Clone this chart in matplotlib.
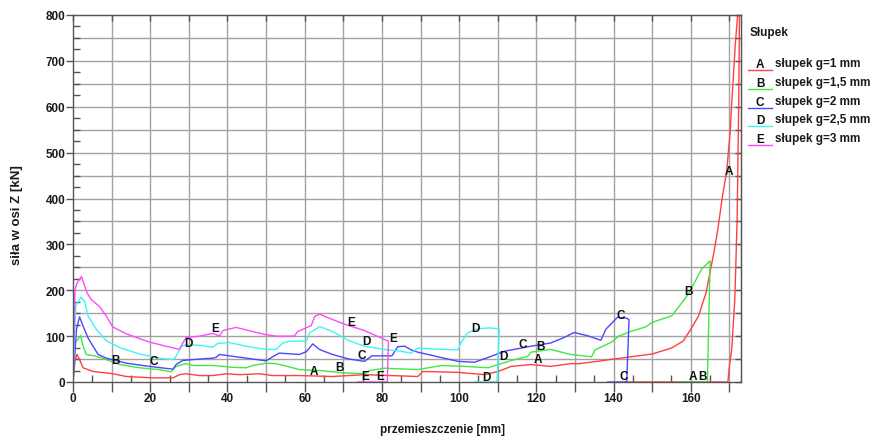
import numpy as np
import matplotlib
matplotlib.use("Agg")
import matplotlib.pyplot as plt
from matplotlib.ticker import MultipleLocator, FuncFormatter, NullFormatter
from matplotlib.lines import Line2D

plt.rcParams['font.family'] = ['Liberation Sans', 'DejaVu Sans']
plt.rcParams['font.weight'] = 'bold'

# przemieszczenie [mm] / siła [kN] for each column wall thickness
xa = [0, 0.5, 1.0, 1.7, 2.6, 5.2, 10.3, 13.8, 20.7, 25.9, 27.6, 29.3, 32.8, 36.2, 39.7,
      43.1, 48.3, 51.7, 58.6, 67.2, 75.5, 89.3, 90.6, 99.7, 106.6, 110.1, 113.5, 118.6,
      123.7, 128.9, 131, 135.8, 140, 150, 155, 158, 160, 162, 164, 165, 166, 167, 168.2,
      169.3, 170.2, 170.5, 171.2, 171.5, 172.1, 172.4, 172.6, 172.4, 172.0, 171.4, 170.6,
      170.0, 169.6, 143]
ya = [0, 45, 60, 49, 31, 23, 18, 12, 9, 9, 16, 18, 14, 14, 18,
      16, 18, 14, 14, 12, 16, 12, 23, 21, 16, 23, 34, 38,
      34, 40, 40, 45, 50, 61, 74, 89, 115, 144, 196, 240, 283, 333, 405,
      460, 545, 595, 690, 733, 797, 840, 800, 600, 355, 181, 72,
      35, 0, 0]

xb = [0, 0.4, 1.3, 2.0, 2.6, 3.4, 6.0, 8.6, 12.1, 17.2, 22.4, 25.4, 26.7, 29.3, 31,
      36.2, 41.4, 44.8, 46.6, 50, 52.6, 56, 58.6, 63.9, 69.8, 75.5, 76.8, 80.7, 89.3,
      95.4, 101.4, 107.5, 110.1, 114.4, 117.8, 118.6, 123.7, 128.9, 134.3, 135.2, 139.5,
      141.3, 144.7, 148.3, 150, 155, 156.8, 159.4, 162.8, 165, 164.3, 157.4]
yb = [0, 85, 93, 101, 78, 60, 56, 49, 38, 31, 27, 22, 34, 40, 36,
      36, 32, 31, 36, 41, 40, 33, 27, 25, 20, 18, 25, 30, 27,
      36, 34, 31, 38, 49, 56, 65, 71, 60, 55, 70, 87,
      100, 111, 120, 130, 144, 163, 192, 246, 264, 0, 0]

xc = [0, 0.9, 1.7, 2.6, 3.9, 6.5, 8.6, 13.8, 19.8, 25.9, 26.7, 28.4, 32.8, 36.2, 37.1,
      37.9, 41.4, 46.6, 50, 51.7, 53.4, 58.6, 60.4, 62.1, 63.8, 67.2, 71.5, 75.5, 77.4,
      82.6, 84.1, 85.9, 87.6, 89.3, 94.5, 99.7, 104, 108.3, 111.7, 118.6, 123.7, 127.2,
      129.8, 133.2, 136.7, 138, 141, 143.4, 144, 143.4, 138.5]
yc = [0, 115, 142, 122, 96, 60, 52, 41, 34, 28, 38, 47, 50, 52, 54,
      60, 56, 50, 46, 55, 63, 60, 66, 83, 71, 60, 50, 45, 57,
      57, 77, 78, 70, 65, 55, 45, 43, 56, 67, 78, 85, 97,
      108, 101, 91, 115, 141, 139, 136, 0, 0]

xd = [0, 0.7, 2.0, 3.0, 3.9, 6.0, 8.6, 12.1, 17.2, 22.4, 25.9, 26.7, 28.0, 29.3, 32.8,
      36.2, 37.5, 40.5, 44.8, 50, 52.6, 54.3, 56, 60.4, 61.3, 63.9, 66.9, 71.2, 75.5,
      80.7, 84.1, 87.6, 89.3, 92.8, 99.7, 100.5, 102.2, 104.8, 107.8, 110.4, 109.8, 104.1]
yd = [0, 165, 185, 176, 144, 115, 90, 75, 61, 52, 49, 56, 78, 81, 80,
      76, 84, 86, 78, 71, 71, 85, 89, 89, 107, 121, 111, 91, 78,
      71, 68, 63, 74, 72, 70, 86, 107, 116, 118, 116, 0, 0]

xe = [0, 0.5, 1.0, 2.2, 3.6, 4.7, 6.9, 8.6, 10.3, 13.8, 19.8, 24.1, 27.6, 28.3, 29.3,
      32.8, 36.2, 37.9, 38.8, 42.2, 46.6, 50, 52.6, 57.3, 58.2, 61.7, 62.6, 63.9, 65.2,
      70.3, 75.5, 81.7, 81.4, 73.7]
ye = [0, 200, 215, 230, 195, 180, 164, 144, 120, 105, 87, 78, 71, 83, 97,
      100, 106, 100, 112, 119, 110, 103, 100, 100, 110, 123, 143, 148, 143,
      126, 112, 89, 0, 0]

# letter tags along each curve
tags_a = [(62.5, 25), (120.5, 50), (160.5, 14), (169.8, 460)]
tags_b = [(10.9, 48), (69, 33), (121.1, 79), (159.4, 199), (163, 14)]
tags_c = [(20.8, 46), (74.8, 59), (116.4, 83), (141.8, 147), (142.6, 14)]
tags_d = [(29.8, 84), (75.9, 90), (104.1, 118), (111.5, 57), (107.2, 10)]
tags_e = [(36.7, 117), (72, 130), (75.7, 12), (79.5, 12), (83, 97)]

letters = ['A', 'B', 'C', 'D', 'E']
names = ['słupek g=1 mm', 'słupek g=1,5 mm', 'słupek g=2 mm',
         'słupek g=2,5 mm', 'słupek g=3 mm']
colors = ['#ff4040', '#40e840', '#4848ff', '#40f4f4', '#ff48ff']

series = [(xa, ya, tags_a), (xb, yb, tags_b), (xc, yc, tags_c),
          (xd, yd, tags_d), (xe, ye, tags_e)]

fig = plt.figure(figsize=(8.72, 4.39), dpi=100)
ax = fig.add_axes([73 / 872, 56 / 439, 668 / 872, 367 / 439])
ax.set_xlim(0, 173)
ax.set_ylim(0, 800)

for v in np.arange(10, 173, 10):
    ax.axvline(v, color='#a2a2a2', lw=1.0, zorder=0)
for h in np.arange(50, 800, 50):
    ax.axhline(h, color='#a2a2a2', lw=1.0, zorder=0)

for (x, y, tags), let, col in zip(series, letters, colors):
    ax.plot(x, y, color=col, lw=1.0, zorder=2)
    for tx, ty in tags:
        ax.text(tx, ty, let, ha='center', va='center', fontsize=8.5,
                fontweight='bold', color='#111111', zorder=3)

ax.xaxis.set_major_locator(MultipleLocator(10))
ax.xaxis.set_minor_locator(MultipleLocator(5))
ax.xaxis.set_major_formatter(FuncFormatter(lambda v, p: '%d' % v if int(round(v)) % 20 == 0 else ''))
ax.yaxis.set_major_locator(MultipleLocator(100))
ax.yaxis.set_minor_locator(MultipleLocator(25))
ax.tick_params(axis='x', which='major', direction='out', length=7, width=1,
               pad=0.5, labelsize=8.5, colors='#555555', labelcolor='#1a1a1a')
ax.tick_params(axis='x', which='minor', direction='in', length=5, width=1, colors='#555555')
ax.tick_params(axis='y', which='major', direction='out', length=5, width=1,
               pad=0.5, labelsize=8.5, colors='#555555', labelcolor='#1a1a1a')
ax.tick_params(axis='y', which='minor', direction='in', length=5, width=1, colors='#555555')
for lab in ax.get_xticklabels() + ax.get_yticklabels():
    lab.set_fontweight('bold')

for s in ax.spines.values():
    s.set_color('#555555')
    s.set_linewidth(1.0)

right = ax.secondary_yaxis('right')
right.yaxis.set_major_locator(MultipleLocator(50))
right.yaxis.set_major_formatter(NullFormatter())
right.tick_params(direction='in', length=4, width=1, colors='#555555')
right.spines['right'].set_color('#555555')

top = ax.secondary_xaxis('top')
top.xaxis.set_major_locator(MultipleLocator(10))
top.xaxis.set_major_formatter(NullFormatter())
top.tick_params(direction='in', length=4, width=1, colors='#555555')
top.spines['top'].set_color('#555555')

fig.text(442 / 872, 1 - 430 / 439, 'przemieszczenie [mm]', ha='center', va='center',
         fontsize=8.5, fontweight='bold', color='#1a1a1a')
fig.text(17 / 872, 1 - 215 / 439, 'siła w osi Z [kN]', ha='center', va='center',
         rotation=90, fontsize=9.5, fontweight='bold', color='#1a1a1a')

# legend block on the right
W, H = 872, 439
fig.text(750 / W, 1 - 33 / H, 'Słupek', ha='left', va='center',
         fontsize=8.5, fontweight='bold', color='#1a1a1a')
for i, (let, name, col) in enumerate(zip(letters, names, colors)):
    yy = 64 + 18.8 * i
    fig.text(760 / W, 1 - (yy + 1) / H, let, ha='center', va='center',
             fontsize=8.5, fontweight='bold', color='#111111')
    fig.add_artist(Line2D([748 / W, 772 / W], [1 - (yy + 7) / H] * 2,
                          color=col, lw=1.0))
    fig.text(775 / W, 1 - yy / H, name, ha='left', va='center',
             fontsize=8.5, fontweight='bold', color='#1a1a1a')

fig.savefig('out.png', dpi=100)
